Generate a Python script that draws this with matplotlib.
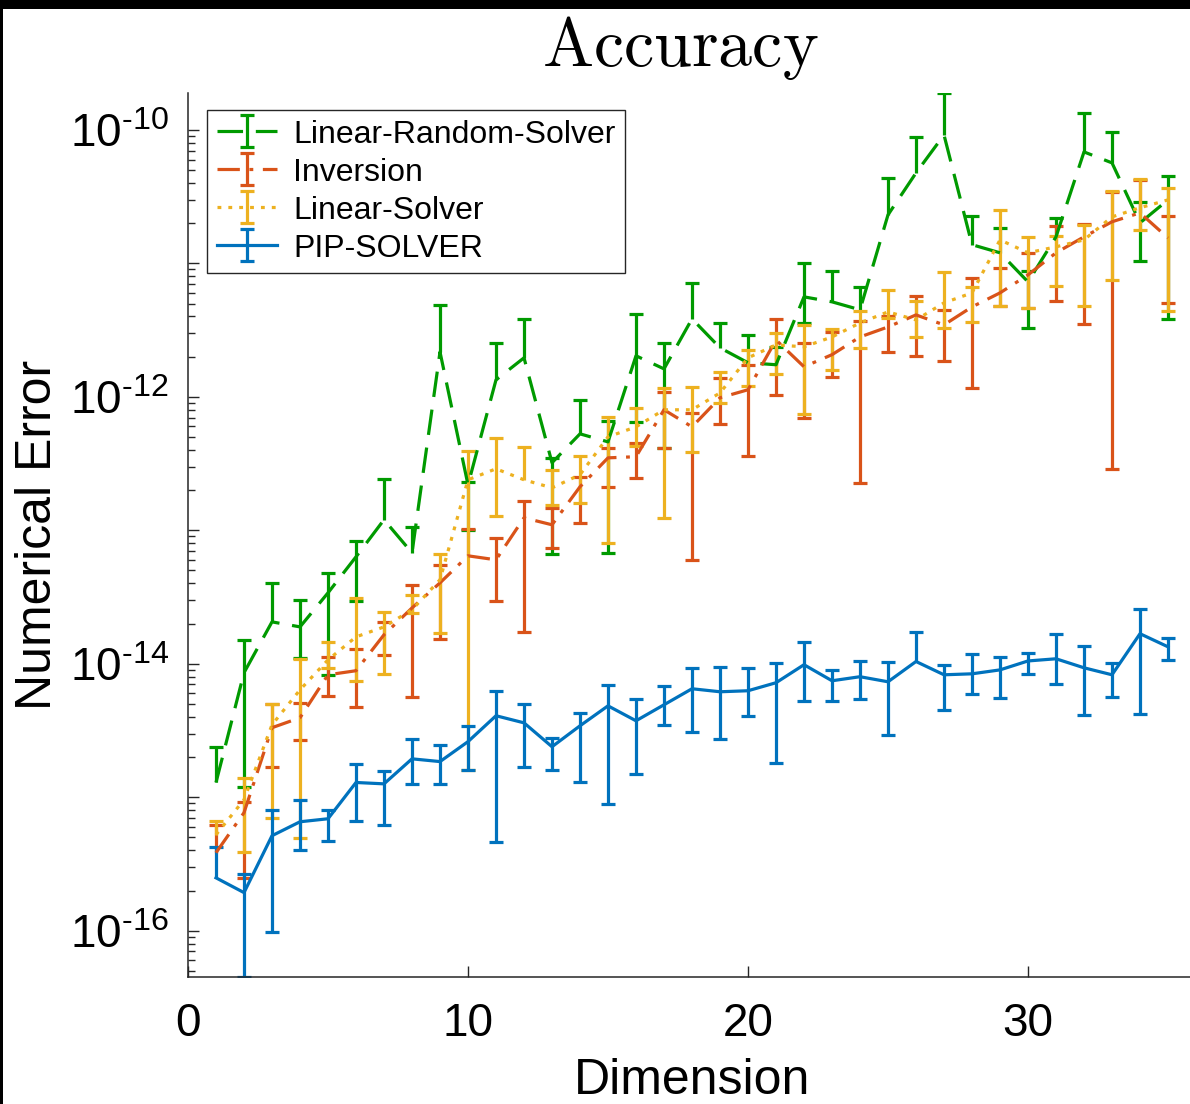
import numpy as np
import matplotlib
matplotlib.use('Agg')
import matplotlib.pyplot as plt
from matplotlib.patches import Rectangle
from matplotlib.ticker import LogLocator, NullFormatter

nan = np.nan
dims = np.arange(1, 36)

# Linear-Random-Solver (green): mean, lower end, upper end of the bars
lrs_y = [1.29e-15, 8.57e-15, 2.06e-14, 1.89e-14, 3.40e-14, 6.33e-14, 1.20e-13, 6.78e-14, 2.17e-12, 2.19e-13,
         1.34e-12, 1.96e-12, 3.21e-13, 5.28e-13, 4.60e-13, 2.03e-12, 1.62e-12, 3.84e-12, 2.33e-12, 1.80e-12,
         1.74e-12, 5.61e-12, 5.15e-12, 4.49e-12, 2.31e-11, 4.76e-11, 9.17e-11, 1.38e-11, 1.20e-11, 7.27e-12,
         1.58e-11, 6.84e-11, 5.66e-11, 2.01e-11, 2.99e-11]
lrs_hi = [2.39e-15, 1.51e-14, 4.04e-14, 3.01e-14, 4.81e-14, 8.34e-14, 2.43e-13, 1.06e-13, 4.89e-12, 2.31e-13,
          2.54e-12, 3.84e-12, 3.49e-13, 9.5e-13, 6.61e-13, 4.19e-12, 2.54e-12, 7.14e-12, 3.58e-12, 2.91e-12,
          2.37e-12, 1.01e-11, 8.79e-12, 6.67e-12, 4.37e-11, 8.87e-11, 1.89e-10, 2.27e-11, 1.85e-11, 8.79e-12,
          2.19e-11, 1.34e-10, 9.66e-11, 2.89e-11, 4.52e-11]
lrs_lo = [nan, 1.20e-15, nan, 1.11e-14, 8.27e-15, 2.96e-14, nan, nan, nan, 1.01e-13,
          nan, nan, 6.67e-14, nan, 6.78e-14, 6.50e-13, 4.15e-13, nan, nan, nan,
          nan, 3.58e-12, nan, nan, nan, nan, nan, nan, nan, 3.29e-12,
          nan, nan, nan, 1.04e-11, 3.84e-12]

# Inversion (orange)
inv_y = [3.84e-16, 7.66e-16, 3.32e-15, 3.94e-15, 8.27e-15, 8.87e-15, 1.65e-14, 2.62e-14, 4.04e-14, 6.44e-14,
         6.01e-14, 1.24e-13, 1.10e-13, 2.12e-13, 3.49e-13, 3.56e-13, 8.0e-13, 5.96e-13, 9.84e-13, 1.13e-12,
         2.67e-12, 1.68e-12, 2.07e-12, 2.81e-12, 3.34e-12, 4.11e-12, 3.46e-12, 4.72e-12, 6.01e-12, 8.2e-12,
         1.20e-11, 1.58e-11, 2.05e-11, 2.39e-11, 1.55e-11]
inv_hi = [6.22e-16, 9.25e-16, 5.01e-15, 5.11e-15, 1.13e-14, 1.29e-14, 2.06e-14, 3.91e-14, 5.52e-14, 1.03e-13,
          8.79e-14, 1.66e-13, 1.47e-13, 2.52e-13, 4.15e-13, 4.52e-13, 1.09e-12, 7.59e-13, 1.39e-12, 1.74e-12,
          3.84e-12, 2.54e-12, 3.07e-12, 3.71e-12, 4.05e-12, 5.71e-12, 4.49e-12, 7.79e-12, 9.25e-12, 1.20e-11,
          1.91e-11, 1.98e-11, 3.43e-11, 4.22e-11, 2.27e-11]
inv_lo = [nan, 2.49e-16, 1.69e-15, 2.70e-15, 5.76e-15, 4.76e-15, 1.17e-14, 5.66e-15, 1.54e-14, nan,
          2.96e-14, 1.74e-14, 7.40e-14, 1.14e-13, 2.12e-13, 2.47e-13, 4.15e-13, 6.01e-14, 6.28e-13, 3.61e-13,
          1.04e-12, 6.97e-13, 1.41e-12, 2.27e-13, 2.17e-12, 2.03e-12, 1.86e-12, 1.17e-12, 4.81e-12, 4.64e-12,
          5.24e-12, 3.52e-12, 2.89e-13, nan, 5.06e-12]

# Linear-Solver (yellow)
ls_y = [5.24e-16, 9.58e-16, 3.49e-15, 6.38e-15, 1.07e-14, 1.59e-14, 1.89e-14, 2.54e-14, 4.26e-14, 2.39e-13,
        2.89e-13, 2.39e-13, 2.08e-13, 2.61e-13, 5.01e-13, 5.96e-13, 8.0e-13, 8.0e-13, 1.07e-12, 1.96e-12,
        2.45e-12, 2.37e-12, 2.81e-12, 3.58e-12, 4.33e-12, 3.77e-12, 5.06e-12, 6.01e-12, 1.50e-11, 1.20e-11,
        1.33e-11, 1.50e-11, 2.23e-11, 2.61e-11, 2.99e-11]
ls_hi = [6.67e-16, 1.40e-15, 5.01e-15, 1.09e-14, 1.46e-14, 3.12e-14, 2.45e-14, 3.29e-14, 6.67e-14, 3.94e-13,
         4.93e-13, 4.22e-13, 2.84e-13, 3.61e-13, 7.08e-13, 8.27e-13, 1.17e-12, 1.19e-12, 1.54e-12, 2.25e-12,
         3.01e-12, 3.46e-12, 3.23e-12, 4.41e-12, 6.33e-12, 5.24e-12, 8.63e-12, 6.67e-12, 2.52e-11, 1.58e-11,
         1.61e-11, 1.94e-11, 3.49e-11, 4.30e-11, 3.68e-11]
ls_lo = [nan, 3.91e-16, 7.02e-16, 4.98e-16, 9.33e-15, 7.46e-15, 8.41e-15, 2.41e-14, 1.71e-14, 1.61e-15,
         1.28e-13, nan, 1.55e-13, 1.61e-13, 8.05e-14, 4.30e-13, 1.24e-13, 3.87e-13, 9.02e-13, 1.21e-12,
         1.49e-12, 7.46e-13, 1.59e-12, 2.33e-12, 3.91e-12, 2.81e-12, 3.29e-12, 3.65e-12, 4.81e-12, 4.64e-12,
         6.78e-12, 4.81e-12, 7.52e-12, 1.78e-11, 4.41e-12]

# PIP-SOLVER (blue)
pip_y = [2.49e-16, 1.93e-16, 5.15e-16, 6.55e-16, 6.9e-16, 1.29e-15, 1.26e-15, 1.94e-15, 1.85e-15, 2.61e-15,
         4.08e-15, 3.61e-15, 2.39e-15, 3.43e-15, 4.84e-15, 3.74e-15, 4.93e-15, 6.50e-15, 6.17e-15, 6.28e-15,
         7.21e-15, 9.84e-15, 7.46e-15, 8.0e-15, 7.33e-15, 1.04e-14, 8.27e-15, 8.41e-15, 9.0e-15, 1.05e-14,
         1.09e-14, 9.33e-15, 8.27e-15, 1.68e-14, 1.34e-14]
pip_hi = [4.26e-16, 2.67e-16, 8.05e-16, 9.58e-16, 8.05e-16, 1.78e-15, 1.58e-15, 2.74e-15, 2.47e-15, 3.43e-15,
          6.28e-15, 5.01e-15, 2.79e-15, 4.30e-15, 6.96e-15, 5.47e-15, 6.84e-15, 9.33e-15, 9.5e-15, 9.33e-15,
          1.02e-14, 1.46e-14, 9.0e-15, 1.05e-14, 1.04e-14, 1.74e-14, 9.84e-15, 1.19e-14, 1.13e-14, 1.21e-14,
          1.68e-14, 1.36e-14, 1.02e-14, 2.58e-14, 1.57e-14]
pip_lo = [nan, 4.5e-17, 9.7e-17, 4.05e-16, 4.72e-16, 6.67e-16, 6.22e-16, 1.26e-15, 1.26e-15, 1.61e-15,
          4.65e-16, 1.69e-15, 1.61e-15, 1.31e-15, 8.94e-16, 1.50e-15, 3.49e-15, 3.10e-15, 2.74e-15, 4.08e-15,
          1.81e-15, 5.28e-15, 5.28e-15, 5.47e-15, 2.94e-15, nan, 4.52e-15, 5.96e-15, 5.56e-15, 8.41e-15,
          7.08e-15, 4.15e-15, 5.66e-15, 4.22e-15, 1.07e-14]

series = [
    ('Linear-Random-Solver', lrs_y, lrs_lo, lrs_hi, '#009a00', (0, (8, 4))),
    ('Inversion', inv_y, inv_lo, inv_hi, '#D95319', (0, (7, 3, 1.2, 3))),
    ('Linear-Solver', ls_y, ls_lo, ls_hi, '#EDB120', (0, (1.2, 2.2))),
    ('PIP-SOLVER', pip_y, pip_lo, pip_hi, '#0072BD', '-'),
]

plt.rcParams['font.family'] = ['Liberation Sans', 'DejaVu Sans']
plt.rcParams['mathtext.default'] = 'regular'
dark = '#262626'
lw = 2.3

fig = plt.figure(figsize=(11.9, 11.04), dpi=100)
fig.patch.set_facecolor('black')
fig.add_artist(Rectangle((3 / 1190, 0), 1, 1 - 9 / 1104, transform=fig.transFigure,
                         facecolor='white', edgecolor='none', zorder=-10))

ax = fig.add_axes([188 / 1190, 1 - 977 / 1104, 1008 / 1190, 884 / 1104])
ax.set_yscale('log')

all_lo = []
all_hi = []
for name, y, lo, hi, color, ls in series:
    y = np.array(y)
    lo = np.array(lo)
    hi = np.array(hi)
    err_lo = np.where(np.isnan(lo), 0, y - lo)
    err_hi = hi - y
    line, caps, bars = ax.errorbar(dims, y, yerr=[err_lo, err_hi], color=color, lw=lw, ls=ls,
                                   elinewidth=lw, capsize=4.8, capthick=lw, label=name)
    # lower bound not shown where it went negative
    caps[0].set_ydata(np.where(np.isnan(lo), nan, lo))
    all_lo.append(np.nanmin(lo))
    all_hi.append(np.max(hi))

ax.set_xlim(0, 36)
ax.set_ylim(min(all_lo), max(all_hi))

ax.set_xticks([0, 10, 20, 30])
decades = [-16, -15, -14, -13, -12, -11, -10]
ax.set_yticks([10.0 ** d for d in decades],
              ['$\\mathdefault{10^{\u2010%d}}$' % -d if d % 2 == 0 else '' for d in decades])
ax.yaxis.set_minor_locator(LogLocator(base=10, subs=np.arange(2, 10)))
ax.yaxis.set_minor_formatter(NullFormatter())

ax.tick_params(axis='both', which='both', direction='in', color=dark, width=1.0, labelcolor='black')
ax.tick_params(axis='both', which='major', length=8, labelsize=33)
ax.tick_params(axis='y', which='minor', length=5)
ax.tick_params(axis='x', pad=18)
ax.tick_params(axis='y', pad=14)

for side in ['top', 'right']:
    ax.spines[side].set_visible(False)
for side in ['left', 'bottom']:
    ax.spines[side].set_color(dark)
    ax.spines[side].set_linewidth(1.1)

ax.set_xlabel('Dimension', fontsize=36, color='black', labelpad=9)
ax.set_ylabel('Numerical Error', fontsize=36, color='black', labelpad=6)

ax.set_title(r'$\mathrm{Accuracy}$', math_fontfamily='cm', fontsize=49,
             x=(680 - 188) / 1008, y=(977 - 74) / 884, va='baseline')

leg = ax.legend(loc='upper left', bbox_to_anchor=(19 / 1008, (977 - 110) / 884), borderaxespad=0,
                fontsize=23, fancybox=False, edgecolor=dark, framealpha=1, handlelength=1.9,
                handletextpad=0.5, labelspacing=0.25, borderpad=0.3)
leg.get_frame().set_linewidth(1.0)

fig.savefig('out.png', dpi=100, facecolor=fig.get_facecolor())
